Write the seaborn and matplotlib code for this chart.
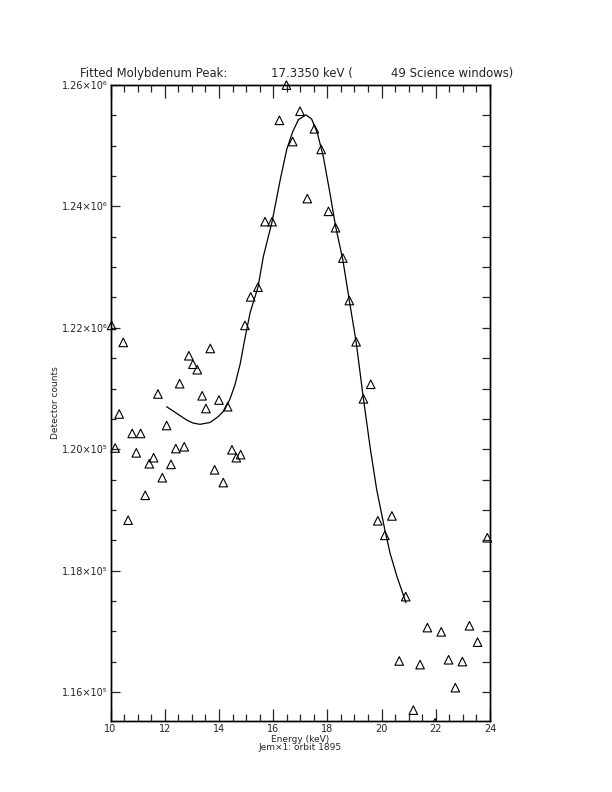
import numpy as np
import pandas as pd
import matplotlib
matplotlib.use("Agg")
import matplotlib.pyplot as plt
from matplotlib.ticker import MultipleLocator, FixedLocator
import seaborn as sns

# measured points (energy in keV, counts in units of 1e6)
energy = [10.04, 10.17, 10.32, 10.47, 10.65, 10.80, 10.95, 11.11, 11.28, 11.43,
          11.59, 11.75, 11.91, 12.07, 12.23, 12.41, 12.55, 12.72, 12.89, 13.04,
          13.20, 13.38, 13.52, 13.68, 13.84, 14.00, 14.16, 14.32, 14.48, 14.64,
          14.80, 14.96,
          15.17, 15.44, 15.70, 15.96, 16.23, 16.49, 16.72, 16.99, 17.26, 17.52,
          17.77, 18.04, 18.30, 18.57, 18.81, 19.06, 19.33, 19.60, 19.86, 20.12,
          20.38,
          20.65, 20.89, 21.17, 21.42, 21.69, 21.97, 22.20, 22.47, 22.72, 22.98,
          23.24, 23.54, 23.90]
counts = [1.2204, 1.2002, 1.2058, 1.2176, 1.1883, 1.2026, 1.1994, 1.2026, 1.1924, 1.1976,
          1.1986, 1.2091, 1.1953, 1.2039, 1.1975, 1.2001, 1.2108, 1.2004, 1.2154, 1.2140,
          1.2131, 1.2088, 1.2067, 1.2166, 1.1966, 1.2081, 1.1945, 1.2070, 1.1999, 1.1986,
          1.1991, 1.2204,
          1.2251, 1.2267, 1.2375, 1.2375, 1.2542, 1.2600, 1.2507, 1.2557, 1.2413, 1.2528,
          1.2494, 1.2392, 1.2365, 1.2315, 1.2245, 1.2177, 1.2083, 1.2107, 1.1882, 1.1858,
          1.1890,
          1.1651, 1.1757, 1.1570, 1.1645, 1.1706, 1.1549, 1.1699, 1.1653, 1.1607, 1.1650,
          1.1709, 1.1682, 1.1854]

# fitted curve
fit_energy = [12.07, 12.44, 12.81, 13.05, 13.30, 13.67, 13.98, 14.20, 14.40, 14.59,
              14.78, 14.96, 15.15, 15.44, 15.64, 15.96, 16.26, 16.50, 16.72, 16.93,
              17.21, 17.42, 17.63, 17.85, 18.07, 18.30, 18.57, 18.81, 19.06, 19.33,
              19.58, 19.82, 20.12, 20.31, 20.56, 20.80, 20.90]
fit_counts = [1.2070, 1.2059, 1.2048, 1.2043, 1.2041, 1.2044, 1.2054, 1.2064, 1.2082, 1.2106,
              1.2140, 1.2183, 1.2225, 1.2267, 1.2318, 1.2375, 1.2444, 1.2494, 1.2523, 1.2543,
              1.2551, 1.2544, 1.2521, 1.2482, 1.2428, 1.2368, 1.2312, 1.2245, 1.2177, 1.2083,
              1.2002, 1.1933, 1.1867, 1.1829, 1.1791, 1.1760, 1.1747]

ytick_vals = [1.16, 1.18, 1.20, 1.22, 1.24, 1.26]
ytick_labels = ["1.16×10⁵", "1.18×10⁵", "1.20×10⁵", "1.22×10⁶", "1.24×10⁶", "1.26×10⁶"]
xtick_vals = [10, 12, 14, 16, 18, 20, 22, 24]

ylo, yhi = 1.1552e6, 1.2601e6

pts = pd.DataFrame({"energy": energy, "counts": np.array(counts) * 1e6})
fit = pd.DataFrame({"energy": fit_energy, "counts": np.array(fit_counts) * 1e6})

sns.set_style("ticks")
plt.rcParams["font.family"] = ["DejaVu Sans"]

fig = plt.figure(figsize=(6.12, 7.92), dpi=100)
ax = fig.add_axes([0.1806, 0.0896, 0.6201, 0.8037])

inside = pts["counts"] >= ylo
sns.scatterplot(data=pts[inside], x="energy", y="counts", marker="^", s=38,
                facecolor="none", edgecolor="black", linewidth=0.8, ax=ax,
                clip_on=False, zorder=3)
sns.scatterplot(data=pts[~inside], x="energy", y="counts", marker="^", s=38,
                facecolor="none", edgecolor="black", linewidth=0.8, ax=ax,
                clip_on=True, zorder=3)
sns.lineplot(data=fit, x="energy", y="counts", sort=False, estimator=None,
             color="black", linewidth=0.9, ax=ax)

ax.set_xlim(10, 24)
ax.set_ylim(ylo, yhi)
ax.set_xlabel("")
ax.set_ylabel("")

ax.set_xticks(xtick_vals)
ax.set_xticklabels([str(v) for v in xtick_vals], fontsize=7)
ax.xaxis.set_minor_locator(MultipleLocator(0.5))
ax.set_yticks([v * 1e6 for v in ytick_vals])
ax.set_yticklabels(ytick_labels, fontsize=7)
ax.yaxis.set_minor_locator(MultipleLocator(0.005e6))

ax.tick_params(axis="x", which="major", direction="in", top=True, bottom=True,
               length=9, width=0.9, pad=2)
ax.tick_params(axis="x", which="minor", direction="in", top=True, bottom=True,
               length=4.7, width=0.9)
ax.tick_params(axis="y", which="major", direction="in", left=True, right=False,
               length=6.5, width=0.9, pad=2)
ax.tick_params(axis="y", which="minor", direction="in", left=True, right=False,
               length=3.6, width=0.9)

# right side ticks are all the same length
ax2 = ax.twinx()
ax2.set_ylim(ylo, yhi)
ax2.yaxis.set_major_locator(FixedLocator([v * 1e6 for v in ytick_vals]))
ax2.yaxis.set_minor_locator(MultipleLocator(0.005e6))
ax2.tick_params(axis="y", which="both", direction="in", length=5.8, width=0.9,
                labelright=False)
for a in (ax, ax2):
    for sp in a.spines.values():
        sp.set_visible(True)
        sp.set_linewidth(1.0)
        sp.set_color("black")

# title pieces
fig.text(80 / 612, 1 - 77.5 / 792, "Fitted Molybdenum Peak:", fontsize=8.4, ha="left", va="baseline")
fig.text(271 / 612, 1 - 77.5 / 792, "17.3350 keV (", fontsize=8.4, ha="left", va="baseline")
fig.text(391 / 612, 1 - 77.5 / 792, "49 Science windows)", fontsize=8.4, ha="left", va="baseline")

fig.text(300.5 / 612, 1 - 739 / 792, "Energy (keV)", fontsize=6.5, ha="center", va="center")
fig.text(300.5 / 612, 1 - 747 / 792, "Jem×1: orbit 1895", fontsize=6.5, ha="center", va="center")
fig.text(55 / 612, 1 - 403 / 792, "Detector counts", fontsize=6.5, ha="center", va="center",
         rotation=90)

fig.savefig("out.png", dpi=100, facecolor="white")
